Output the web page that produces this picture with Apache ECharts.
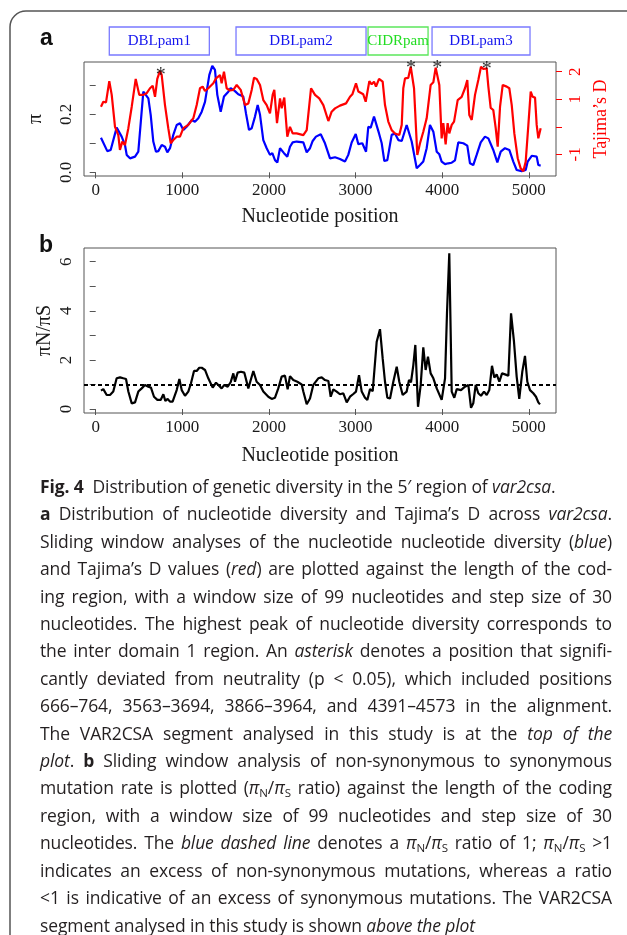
<!DOCTYPE html>
<html><head><meta charset="utf-8">
<script src="https://cdn.jsdelivr.net/npm/echarts@6.0.0/dist/echarts.min.js"></script>
<style>
html,body{margin:0;padding:0;background:#fff;}
#wrap{position:relative;width:627px;height:935px;overflow:hidden;}
#chart{position:absolute;left:0;top:0;width:627px;height:935px;}
#cap{position:absolute;left:40px;top:473px;width:572px;font-family:"Open Sans",sans-serif;font-size:17.5px;letter-spacing:-0.12px;line-height:27.4px;color:#231f20;}
#cap div{text-align:justify;text-align-last:justify;}
#cap div.l{text-align:left;text-align-last:left;}
#cap sub{font-size:11.5px;vertical-align:-3px;line-height:0;}
</style></head>
<body><div id="wrap"><div id="chart"></div>
<div id="cap">
<div class="l"><b>Fig. 4</b>&nbsp; Distribution of genetic diversity in the 5′ region of <i>var2csa</i>.</div>
<div><b>a</b> Distribution of nucleotide diversity and Tajima’s D across <i>var2csa</i>.</div>
<div>Sliding window analyses of the nucleotide nucleotide diversity (<i>blue</i>)</div>
<div>and Tajima’s D values (<i>red</i>) are plotted against the length of the cod-</div>
<div>ing region, with a window size of 99 nucleotides and step size of 30</div>
<div>nucleotides. The highest peak of nucleotide diversity corresponds to</div>
<div>the inter domain 1 region. An <i>asterisk</i> denotes a position that signifi-</div>
<div>cantly deviated from neutrality (p &lt; 0.05), which included positions</div>
<div>666–764, 3563–3694, 3866–3964, and 4391–4573 in the alignment.</div>
<div>The VAR2CSA segment analysed in this study is at the <i>top of the</i></div>
<div><i>plot</i>. <b>b</b> Sliding window analysis of non-synonymous to synonymous</div>
<div>mutation rate is plotted (<i>π</i><sub>N</sub>/<i>π</i><sub>S</sub> ratio) against the length of the coding</div>
<div>region, with a window size of 99 nucleotides and step size of 30</div>
<div>nucleotides. The <i>blue dashed line</i> denotes a <i>π</i><sub>N</sub>/<i>π</i><sub>S</sub> ratio of 1; <i>π</i><sub>N</sub>/<i>π</i><sub>S</sub> &gt;1</div>
<div>indicates an excess of non-synonymous mutations, whereas a ratio</div>
<div>&lt;1 is indicative of an excess of synonymous mutations. The VAR2CSA</div>
<div class="l">segment analysed in this study is shown <i>above the plot</i></div>
</div></div>
<script>
// ---- data ----
const xTicks = [0, 1000, 2000, 3000, 4000, 5000];
const piTicks = [0, 0.1, 0.2, 0.3];
const piLabels = [0, 0.2];
const tdTicks = [-1, 0, 1, 2];
const tdLabels = [-1, 1, 2];
const ratioTicks = [0, 1, 2, 3, 4, 5, 6];
const ratioLabels = [0, 2, 4, 6];

const piPos = [61,134,173,242,300,338,358,396,454,492,550,569,608,635,665,696,723,762,800,827,858,896,935,973,1012,1050,1108,1146,1185,1224,1262,1281,1312,1346,1377,1404,1443,1481,1531,1558,1608,1646,1704,1735,1770,1801,1839,1870,1897,1935,1974,2012,2039,2070,2097,2128,2174,2212,2243,2274,2320,2397,2436,2474,2505,2543,2598,2647,2705,2763,2820,2878,2916,2955,3002,3032,3078,3121,3147,3175,3213,3236,3271,3302,3332,3367,3417,3455,3494,3533,3590,3609,3648,3706,3744,3782,3821,3859,3898,3937,3967,3994,4033,4071,4110,4148,4186,4244,4290,4321,4359,4398,4445,4494,4533,4590,4637,4676,4725,4775,4821,4860,4918,4964,4987,5034,5091,5110,5137];
const piVal = [0.119,0.073,0.077,0.154,0.123,0.094,0.060,0.048,0.054,0.071,0.278,0.284,0.255,0.198,0.106,0.071,0.073,0.094,0.088,0.069,0.083,0.129,0.163,0.169,0.146,0.157,0.180,0.174,0.186,0.209,0.243,0.278,0.336,0.367,0.353,0.267,0.209,0.261,0.278,0.290,0.280,0.269,0.261,0.203,0.146,0.152,0.192,0.232,0.198,0.111,0.083,0.060,0.066,0.042,0.034,0.083,0.066,0.054,0.088,0.103,0.106,0.103,0.069,0.083,0.108,0.123,0.131,0.100,0.048,0.052,0.046,0.037,0.060,0.103,0.132,0.097,0.100,0.071,0.157,0.154,0.192,0.186,0.134,0.100,0.039,0.042,0.129,0.134,0.111,0.108,0.163,0.157,0.106,0.014,0.025,0.037,0.083,0.163,0.140,0.071,0.062,0.037,0.028,0.031,0.033,0.041,0.103,0.100,0.092,0.031,0.025,0.060,0.103,0.123,0.117,0.077,0.034,0.071,0.083,0.077,0.037,0.008,0.004,0.008,0.037,0.057,0.054,0.025,0.023];

const tdPos = [61,88,119,157,185,223,261,280,307,338,377,416,462,503,550,589,627,658,685,711,742,762,800,838,866,896,935,973,1012,1069,1127,1166,1204,1235,1262,1300,1358,1389,1435,1454,1481,1512,1550,1589,1628,1674,1724,1762,1801,1828,1859,1897,1935,1974,2012,2043,2062,2093,2128,2147,2177,2212,2243,2274,2320,2397,2436,2486,2532,2581,2628,2686,2724,2763,2820,2890,2936,2963,3005,3032,3089,3117,3159,3186,3213,3236,3271,3313,3340,3378,3417,3455,3505,3533,3551,3571,3609,3637,3655,3675,3713,3744,3782,3821,3867,3898,3925,3944,3967,3994,4013,4040,4063,4082,4110,4137,4179,4225,4263,4290,4313,4341,4379,4417,4448,4475,4514,4533,4560,4590,4618,4641,4668,4699,4745,4775,4803,4833,4872,4906,4937,4964,4995,5022,5045,5072,5091,5110,5137];
const tdVal = [0.73,0.91,0.89,1.66,1.16,0.00,-0.30,-0.84,-0.54,-0.66,-0.05,0.73,1.74,1.16,1.16,1.22,1.40,1.49,1.09,1.74,2.03,1.88,0.79,-0.05,-0.60,-0.48,-0.36,-0.36,-0.05,0.07,0.31,0.79,1.40,1.46,1.30,1.40,1.58,1.76,1.88,1.58,2.00,1.40,1.32,1.34,1.52,1.34,0.79,0.85,1.34,1.78,1.74,1.52,0.97,0.79,0.49,1.16,1.34,0.13,1.03,0.67,1.06,-0.36,0.00,-0.24,-0.24,-0.30,-0.12,1.40,1.16,1.03,0.79,0.21,0.55,0.67,0.77,0.85,1.09,1.18,1.58,1.28,1.18,0.91,1.66,1.54,1.64,1.46,1.74,1.64,0.79,0.19,-0.12,-0.24,-0.30,0.07,1.40,1.76,1.78,2.18,2.12,1.40,-1.02,-0.60,-0.18,0.31,1.52,1.62,2.15,2.10,1.52,-0.42,0.13,-0.64,0.13,-0.24,0.07,0.19,0.97,1.09,1.40,1.70,0.43,0.25,1.16,1.70,2.18,2.10,2.12,1.46,0.69,0.61,-0.05,-0.72,0.73,1.52,1.46,1.40,0.79,-0.24,-1.14,-1.51,-1.61,-1.27,0.07,1.28,1.09,1.06,0.07,-0.42,-0.05];

const starPos = [750, 3640, 3944, 4514];
const starVal = [2.00, 2.245, 2.245, 2.22];

const ratioPos = [61,88,127,165,203,242,281,319,350,377,416,454,492,531,569,608,638,673,712,750,781,804,831,858,888,935,966,993,1031,1069,1100,1135,1166,1196,1224,1262,1300,1351,1389,1416,1454,1485,1524,1558,1589,1608,1639,1677,1716,1762,1820,1858,1897,1935,1993,2032,2070,2108,2147,2185,2216,2243,2281,2328,2378,2397,2436,2474,2512,2570,2609,2647,2686,2713,2743,2782,2820,2859,2898,2936,2974,3005,3040,3071,3109,3136,3167,3198,3244,3282,3313,3340,3367,3398,3436,3475,3505,3544,3590,3617,3640,3667,3690,3721,3752,3782,3809,3836,3867,3898,3937,3994,4033,4056,4082,4110,4140,4168,4217,4263,4302,4333,4359,4387,4417,4448,4483,4514,4544,4575,4602,4629,4660,4691,4725,4764,4795,4829,4860,4890,4925,4956,4983,5014,5052,5083,5110,5129];
const ratioVal = [0.75,0.81,0.57,0.57,0.71,1.25,1.29,1.25,1.22,0.71,0.23,0.27,0.71,0.84,0.98,0.91,0.87,0.50,0.37,0.37,0.60,0.33,0.41,0.30,0.30,0.77,1.22,0.77,0.54,0.71,1.05,1.55,1.55,1.68,1.68,1.59,1.25,0.87,1.07,0.98,0.84,0.98,0.91,1.09,1.45,1.11,1.48,1.52,1.48,0.84,1.55,1.11,0.98,0.71,0.50,0.41,0.46,0.84,1.32,1.36,0.80,1.34,1.18,1.11,1.00,0.71,0.19,0.43,0.98,1.25,1.29,1.18,1.14,0.50,0.80,0.71,0.60,0.64,0.27,0.50,0.61,0.71,1.38,0.71,0.46,0.37,0.81,0.73,2.74,3.25,2.06,1.11,0.46,0.43,1.11,1.72,1.11,0.57,0.71,1.18,1.09,1.79,2.61,0.09,0.98,2.51,1.59,2.13,1.45,1.25,0.84,0.37,1.25,3.96,6.34,0.71,0.46,0.81,0.77,0.91,0.98,0.05,0.23,0.98,0.64,0.54,0.71,0.57,0.77,1.76,1.28,1.41,1.11,1.45,1.41,1.36,3.90,2.74,1.32,0.41,1.52,2.16,1.11,0.77,0.64,0.50,0.27,0.19];
const ratioRef = 1;

const domainNames = ['DBLpam1', 'DBLpam2', 'CIDRpam', 'DBLpam3'];
const domainStart = [157, 1620, 3144, 3883];
const domainEnd = [1312, 3121, 3837, 5014];

// ---- chart ----
const serif = '"Liberation Serif", "Times New Roman", serif';
const ink = '#1a1a1a';
const boxCol = '#555';
const pair = (xs, ys) => xs.map((x, i) => [x, ys[i]]);

function xAxisCfg(grid, nameGap) {
  return {
    gridIndex: grid, type: 'value', min: -135, max: 5314,
    axisLine: {show: false}, splitLine: {show: false},
    axisTick: {show: true, length: 6, customValues: xTicks, lineStyle: {color: boxCol, width: 1}},
    axisLabel: {customValues: xTicks, fontFamily: serif, fontSize: 17, color: ink, margin: 6,
                formatter: v => String(Math.round(v))},
    name: 'Nucleotide position', nameLocation: 'middle', nameGap: nameGap,
    nameTextStyle: {fontFamily: serif, fontSize: 20, color: ink}
  };
}

const chart = echarts.init(document.getElementById('chart'), null, {renderer: 'canvas'});
chart.setOption({
  animation: false,
  backgroundColor: '#fff',
  grid: [
    {left: 84, top: 62, width: 472, height: 114, show: true, borderColor: boxCol, borderWidth: 1, backgroundColor: 'transparent'},
    {left: 84, top: 248, width: 472, height: 165, show: true, borderColor: boxCol, borderWidth: 1, backgroundColor: 'transparent'},
    {left: 84, top: 27, width: 472, height: 28, show: false}
  ],
  xAxis: [
    xAxisCfg(0, 31),
    xAxisCfg(1, 33),
    {gridIndex: 2, type: 'value', min: -135, max: 5314, show: false}
  ],
  yAxis: [
    {gridIndex: 0, type: 'value', position: 'left', min: -0.0128, max: 0.3803,
     axisLine: {show: false}, splitLine: {show: false},
     axisTick: {show: true, length: 6, customValues: piTicks, lineStyle: {color: boxCol}},
     axisLabel: {customValues: piLabels, rotate: 90, margin: 9, fontFamily: serif, fontSize: 17, color: ink,
                 formatter: v => Number(v).toFixed(1)},
     name: 'π', nameLocation: 'middle', nameRotate: 90, nameGap: 38, nameMoveOverlap: false,
     nameTextStyle: {fontFamily: serif, fontSize: 20, color: ink}},
    {gridIndex: 0, type: 'value', position: 'right', min: -1.787, max: 2.354,
     axisLine: {show: false}, splitLine: {show: false},
     axisTick: {show: true, length: 6, customValues: tdTicks, lineStyle: {color: '#ff0000'}},
     axisLabel: {customValues: tdLabels, rotate: 90, margin: 11, fontFamily: serif, fontSize: 17, color: '#ff0000'},
     name: 'Tajima’s D', nameLocation: 'middle', nameRotate: 90, nameGap: 35,
     nameTextStyle: {fontFamily: serif, fontSize: 18, color: '#ff0000'}},
    {gridIndex: 1, type: 'value', position: 'left', min: -0.163, max: 6.558,
     axisLine: {show: false}, splitLine: {show: false},
     axisTick: {show: true, length: 6, customValues: ratioTicks, lineStyle: {color: boxCol}},
     axisLabel: {customValues: ratioLabels, rotate: 90, margin: 9, fontFamily: serif, fontSize: 17, color: ink},
     name: 'πN/πS', nameLocation: 'middle', nameRotate: 90, nameGap: 29, nameMoveOverlap: false,
     nameTextStyle: {fontFamily: serif, fontSize: 20, color: ink}},
    {gridIndex: 2, type: 'value', min: 0, max: 1, show: false}
  ],
  series: [
    {type: 'line', name: 'π', xAxisIndex: 0, yAxisIndex: 0, data: pair(piPos, piVal),
     symbol: 'none', lineStyle: {color: '#0000ff', width: 2.2}, z: 2},
    {type: 'line', name: 'Tajima’s D', xAxisIndex: 0, yAxisIndex: 1, data: pair(tdPos, tdVal),
     symbol: 'none', lineStyle: {color: '#ff0000', width: 2.2}, z: 3},
    {type: 'scatter', name: 'significant', xAxisIndex: 0, yAxisIndex: 1, data: pair(starPos, starVal),
     symbol: 'circle', symbolSize: 1, itemStyle: {color: 'rgba(0,0,0,0)'}, z: 4,
     label: {show: true, position: 'inside', formatter: '*', fontFamily: serif, fontSize: 20, color: '#000', offset: [0, 4]}},
    {type: 'line', name: 'πN/πS', xAxisIndex: 1, yAxisIndex: 2, data: pair(ratioPos, ratioVal),
     symbol: 'none', lineStyle: {color: '#000', width: 2.2}, z: 3,
     markLine: {silent: true, symbol: 'none', label: {show: false},
                lineStyle: {color: '#000', width: 2, type: [4, 3]}, data: [{yAxis: ratioRef}]}},
    {type: 'custom', name: 'domains', xAxisIndex: 2, yAxisIndex: 3,
     data: domainStart.map((s, i) => [s, domainEnd[i]]),
     renderItem: function (params, api) {
       const i = params.dataIndex;
       const p0 = api.coord([api.value(0), 1]);
       const p1 = api.coord([api.value(1), 0]);
       const green = domainNames[i].indexOf('CIDR') === 0;
       return {type: 'group', children: [
         {type: 'rect', shape: {x: p0[0], y: p0[1], width: p1[0] - p0[0], height: p1[1] - p0[1]},
          style: {fill: '#fff', stroke: green ? '#5ce65c' : '#7a7aff', lineWidth: 1.3}},
         {type: 'text', x: (p0[0] + p1[0]) / 2, y: (p0[1] + p1[1]) / 2,
          style: {text: domainNames[i], fill: green ? '#22dd22' : '#1515ee',
                  font: '15px ' + serif, textAlign: 'center', textVerticalAlign: 'middle'}}
       ]};
     }}
  ],
  graphic: [
    {type: 'rect', shape: {x: 10, y: 11, width: 660, height: 940, r: 16},
     style: {fill: 'none', stroke: '#555', lineWidth: 1.5}, z: 0, silent: true},
    {type: 'text', x: 40, y: 39, style: {text: 'a', font: 'bold 23px "Liberation Sans", Arial, sans-serif', fill: '#111', textVerticalAlign: 'middle'}},
    {type: 'text', x: 39, y: 246, style: {text: 'b', font: 'bold 23px "Liberation Sans", Arial, sans-serif', fill: '#111', textVerticalAlign: 'middle'}}
  ]
});
</script></body></html>
